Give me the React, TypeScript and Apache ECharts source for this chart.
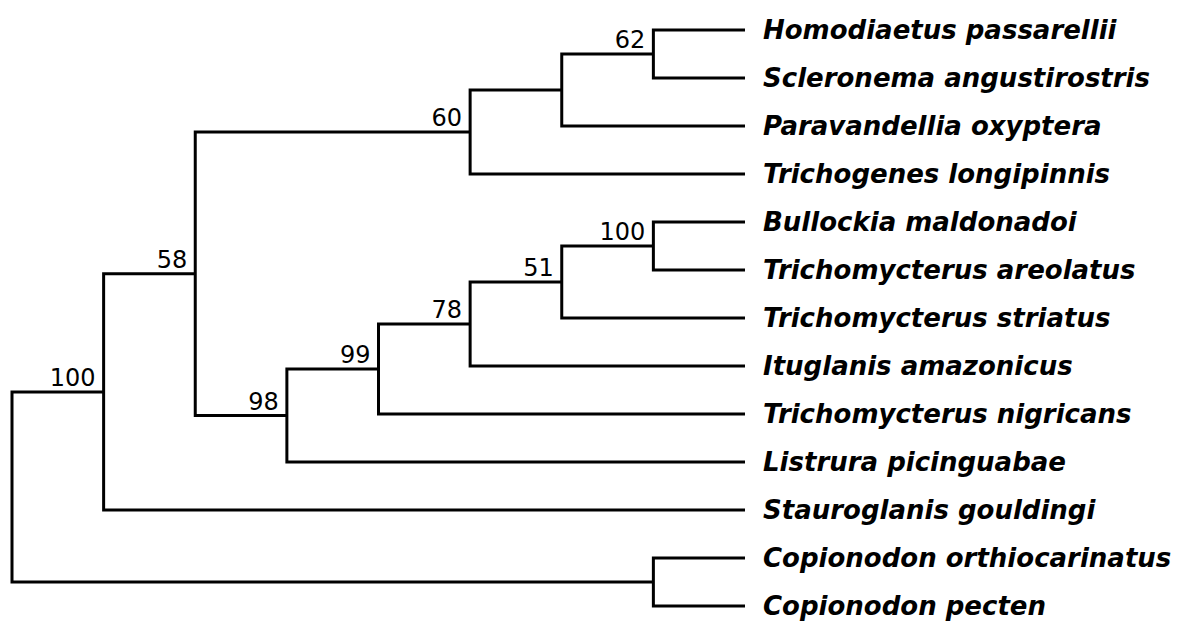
import React, { useEffect, useRef } from "react";
import * as echarts from "echarts";

const taxa = [
  "Homodiaetus passarellii",
  "Scleronema angustirostris",
  "Paravandellia oxyptera",
  "Trichogenes longipinnis",
  "Bullockia maldonadoi",
  "Trichomycterus areolatus",
  "Trichomycterus striatus",
  "Ituglanis amazonicus",
  "Trichomycterus nigricans",
  "Listrura picinguabae",
  "Stauroglanis gouldingi",
  "Copionodon orthiocarinatus",
  "Copionodon pecten",
];

const cladeIds = ["A", "B", "C", "D", "E", "F", "G", "H", "I", "J", "K", "root"];
const cladeChildren = [
  ["Homodiaetus passarellii", "Scleronema angustirostris"],
  ["A", "Paravandellia oxyptera"],
  ["B", "Trichogenes longipinnis"],
  ["Bullockia maldonadoi", "Trichomycterus areolatus"],
  ["D", "Trichomycterus striatus"],
  ["E", "Ituglanis amazonicus"],
  ["F", "Trichomycterus nigricans"],
  ["G", "Listrura picinguabae"],
  ["C", "H"],
  ["I", "Stauroglanis gouldingi"],
  ["Copionodon orthiocarinatus", "Copionodon pecten"],
  ["J", "K"],
];
const cladeSupport: (number | null)[] = [62, null, 60, 100, 51, 78, 99, 98, 58, 100, null, null];

type Pos = { x: number; y: number };

function computeLayout() {
  const height: Record<string, number> = {};
  const yPos: Record<string, number> = {};
  taxa.forEach((t, i) => {
    height[t] = 0;
    yPos[t] = i;
  });
  const idx: Record<string, number> = {};
  cladeIds.forEach((c, i) => (idx[c] = i));
  const h = (id: string): number => {
    if (height[id] !== undefined) return height[id];
    const ch = cladeChildren[idx[id]];
    const v = Math.max(...ch.map(h)) + 1;
    height[id] = v;
    return v;
  };
  const y = (id: string): number => {
    if (yPos[id] !== undefined) return yPos[id];
    const ch = cladeChildren[idx[id]];
    const ys = ch.map(y);
    const v = (Math.min(...ys) + Math.max(...ys)) / 2;
    yPos[id] = v;
    return v;
  };
  cladeIds.forEach((c) => {
    h(c);
    y(c);
  });
  const maxH = height["root"];
  const pos: Record<string, Pos> = {};
  Object.keys(height).forEach((k) => {
    pos[k] = { x: maxH - height[k], y: yPos[k] };
  });
  return { pos, maxH };
}

export default function App() {
  const ref = useRef<HTMLDivElement>(null);
  useEffect(() => {
    if (!ref.current) return;
    const chart = echarts.init(ref.current, null, { renderer: "svg" });
    const { pos, maxH } = computeLayout();

    const cladeData = cladeIds.map((c, i) => [pos[c].x, pos[c].y, i]);
    const tipData = taxa.map((t, i) => [pos[t].x, pos[t].y, i]);

    chart.setOption({
      animation: false,
      backgroundColor: "#ffffff",
      grid: { left: 12, right: 442, top: 30, bottom: 18 },
      xAxis: { type: "value", min: 0, max: maxH, show: false },
      yAxis: { type: "value", min: 0, max: taxa.length - 1, inverse: true, show: false },
      series: [
        {
          type: "custom",
          name: "branches",
          coordinateSystem: "cartesian2d",
          data: cladeData,
          renderItem: (params: any, api: any) => {
            const i = api.value(2);
            const id = cladeIds[i];
            const p = api.coord([pos[id].x, pos[id].y]);
            const ch = cladeChildren[i].map((c) => api.coord([pos[c].x, pos[c].y]));
            ch.sort((a: number[], b: number[]) => a[1] - b[1]);
            const first = ch[0];
            const last = ch[ch.length - 1];
            const children: any[] = [
              {
                type: "polyline",
                shape: {
                  points: [
                    [first[0], first[1]],
                    [p[0], first[1]],
                    [p[0], last[1]],
                    [last[0], last[1]],
                  ],
                },
                style: { stroke: "#000", lineWidth: 3, fill: null, lineJoin: "miter" },
              },
            ];
            const s = cladeSupport[i];
            if (s !== null) {
              children.push({
                type: "text",
                x: p[0] - 8,
                y: p[1] - 2,
                style: {
                  text: String(s),
                  align: "right",
                  verticalAlign: "bottom",
                  fontFamily: "DejaVu Sans",
                  fontSize: 24,
                  fill: "#000",
                },
              });
            }
            return { type: "group", children };
          },
        },
        {
          type: "custom",
          name: "tips",
          coordinateSystem: "cartesian2d",
          data: tipData,
          renderItem: (params: any, api: any) => {
            const i = api.value(2);
            const p = api.coord([api.value(0), api.value(1)]);
            return {
              type: "text",
              x: p[0] + 18,
              y: p[1],
              style: {
                text: taxa[i],
                align: "left",
                verticalAlign: "middle",
                fontFamily: "DejaVu Sans",
                fontSize: 26,
                fontWeight: "bold",
                fontStyle: "italic",
                fill: "#000",
              },
            };
          },
        },
      ],
    });
    return () => chart.dispose();
  }, []);
  return (
    <div
      ref={ref}
      style={{ position: "fixed", left: 0, top: 0, width: 1187, height: 624, background: "#fff" }}
    />
  );
}
